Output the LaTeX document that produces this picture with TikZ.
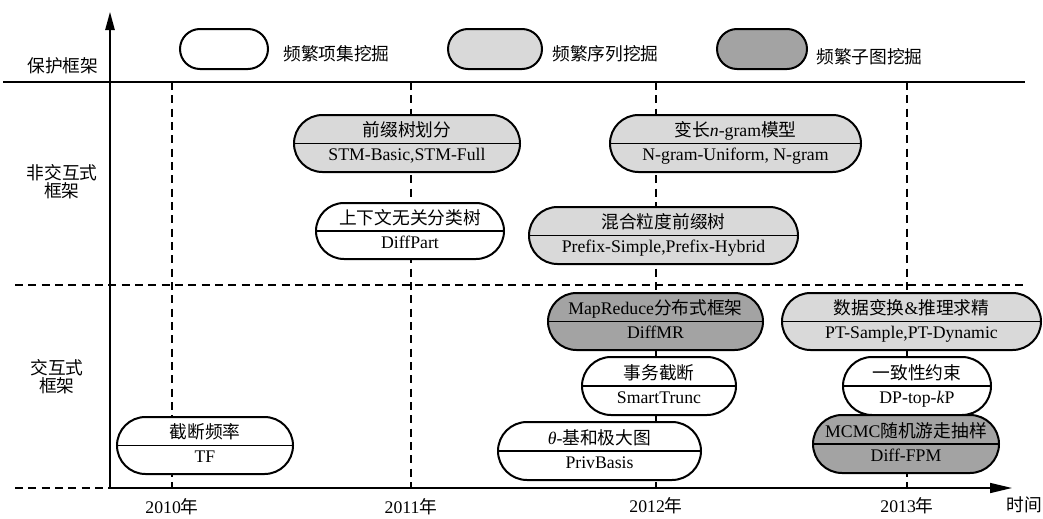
\documentclass[tikz,border=0pt]{standalone}
\usepackage{fontspec}
\setmainfont{Liberation Serif}
\newfontfamily\cjk{Noto Sans CJK SC}
\usetikzlibrary{shapes.misc,arrows.meta}
\definecolor{lgray}{HTML}{D9D9D9}
\definecolor{dgray}{HTML}{A3A3A3}
\tikzset{
  pillbox/.style={rounded rectangle, draw=black, line width=1.5pt, inner sep=0pt},
  divline/.style={line width=1.1pt},
  txt/.style={inner sep=0pt, font=\fontsize{13.3}{16}\selectfont},
  toptext/.style={txt, anchor=base},
  bottext/.style={txt, anchor=base},
  grid/.style={line width=1pt, dash pattern=on 6pt off 4pt},
  axisline/.style={line width=1.2pt},
}
\newcommand{\pill}[8]{%
  \node[pillbox, fill=#6, minimum width=#4*0.75pt, minimum height=#5*0.75pt] (#1) at (#2,#3) {};
  \draw[divline] (#1.west) -- (#1.east);
  \node[toptext] (#1t) at ([yshift=5.25pt]#1.center) {#7};
  \node[bottext] (#1b) at ([yshift=-12.75pt]#1.center) {#8};
}
\begin{document}
\begin{tikzpicture}[x=0.75pt,y=-0.75pt]
\useasboundingbox (0,0) rectangle (1043,518);
% grid lines
\coordinate (tl) at (3,82);
\coordinate (tr) at (1025,82);
\coordinate (ml) at (15,285);
\coordinate (mr) at (1023,285);
\coordinate (bl) at (15,488);
\coordinate (o) at (110,488);
\coordinate (xe) at (1012,488);
\coordinate (ye) at (110,12);
\draw[axisline] (tl) -- (tr);
\draw[grid] (ml) -- (mr);
\draw[grid] (bl) -- (o);
\foreach \x/\n in {172/a,411/b,656/c,907/d}{
  \coordinate (v\n t) at (\x,82);
  \coordinate (v\n b) at (\x,488);
  \draw[grid] (v\n t) -- (v\n b);
}
\draw[axisline,-{Triangle[length=16.5pt,width=7.5pt]}] (o) -- (xe);
\draw[axisline,-{Triangle[length=13.5pt,width=7pt]}] (o) -- (ye);
% legend
\node[pillbox, fill=white, minimum width=66pt, minimum height=30pt] (lg1) at (224,49) {};
\node[txt, anchor=west] (lg1t) at (283,54) {\cjk 频繁项集挖掘};
\node[pillbox, fill=lgray, minimum width=70.5pt, minimum height=30pt] (lg2) at (495,49) {};
\node[txt, anchor=west] (lg2t) at (552,54) {\cjk 频繁序列挖掘};
\node[pillbox, fill=dgray, minimum width=67.5pt, minimum height=30pt] (lg3) at (762,49) {};
\node[txt, anchor=west] (lg3t) at (816,57) {\cjk 频繁子图挖掘};
% row labels
\node[txt] (r1) at (63,66) {\cjk 保护框架};
\node[txt, align=center, font=\fontsize{13.3}{13.5}\selectfont] (r2) at (62,182) {\cjk 非交互式\\\cjk 框架};
\node[txt, align=center, font=\fontsize{13.3}{13.5}\selectfont] (r3) at (57,377) {\cjk 交互式\\\cjk 框架};
% year labels
\node[txt] (y0) at (172,507) {2010{\cjk 年}};
\node[txt] (y1) at (411,507) {2011{\cjk 年}};
\node[txt] (y2) at (656,506) {2012{\cjk 年}};
\node[txt] (y3) at (907,506) {2013{\cjk 年}};
\node[txt] (tm) at (1024,505) {\cjk 时间};
% method pills
\pill{n1}{407}{143.5}{226}{57}{lgray}{\cjk 前缀树划分}{STM-Basic,STM-Full}
\pill{n2}{410}{231}{188}{56}{white}{\cjk 上下文无关分类树}{DiffPart}
\pill{n3}{735.5}{143.5}{251}{57}{lgray}{{\cjk 变长}\textit{n}-gram{\cjk 模型}}{N-gram-Uniform, N-gram}
\pill{n4}{663.5}{235.5}{269}{57}{lgray}{\cjk 混合粒度前缀树}{Prefix-Simple,Prefix-Hybrid}
\pill{n5}{655.5}{321.5}{215}{57}{dgray}{MapReduce{\cjk 分布式框架}}{DiffMR}
\pill{n6}{911.5}{321.5}{259}{57}{lgray}{{\cjk 数据变换}\&{\cjk 推理求精}}{PT-Sample,PT-Dynamic}
\pill{n7}{659}{386}{154}{58}{white}{\cjk 事务截断}{SmartTrunc}
\pill{n8}{917}{386}{148}{58}{white}{\cjk 一致性约束}{DP-top-\textit{k}P}
\pill{n9}{906}{444}{186}{58}{dgray}{MCMC{\cjk 随机游走抽样}}{Diff-FPM}
\pill{n10}{599.5}{451}{203}{58}{white}{\textit{θ}-{\cjk 基和极大图}}{PrivBasis}
\pill{n11}{205}{445.5}{176}{57}{white}{\cjk 截断频率}{TF}
\end{tikzpicture}
\end{document}
